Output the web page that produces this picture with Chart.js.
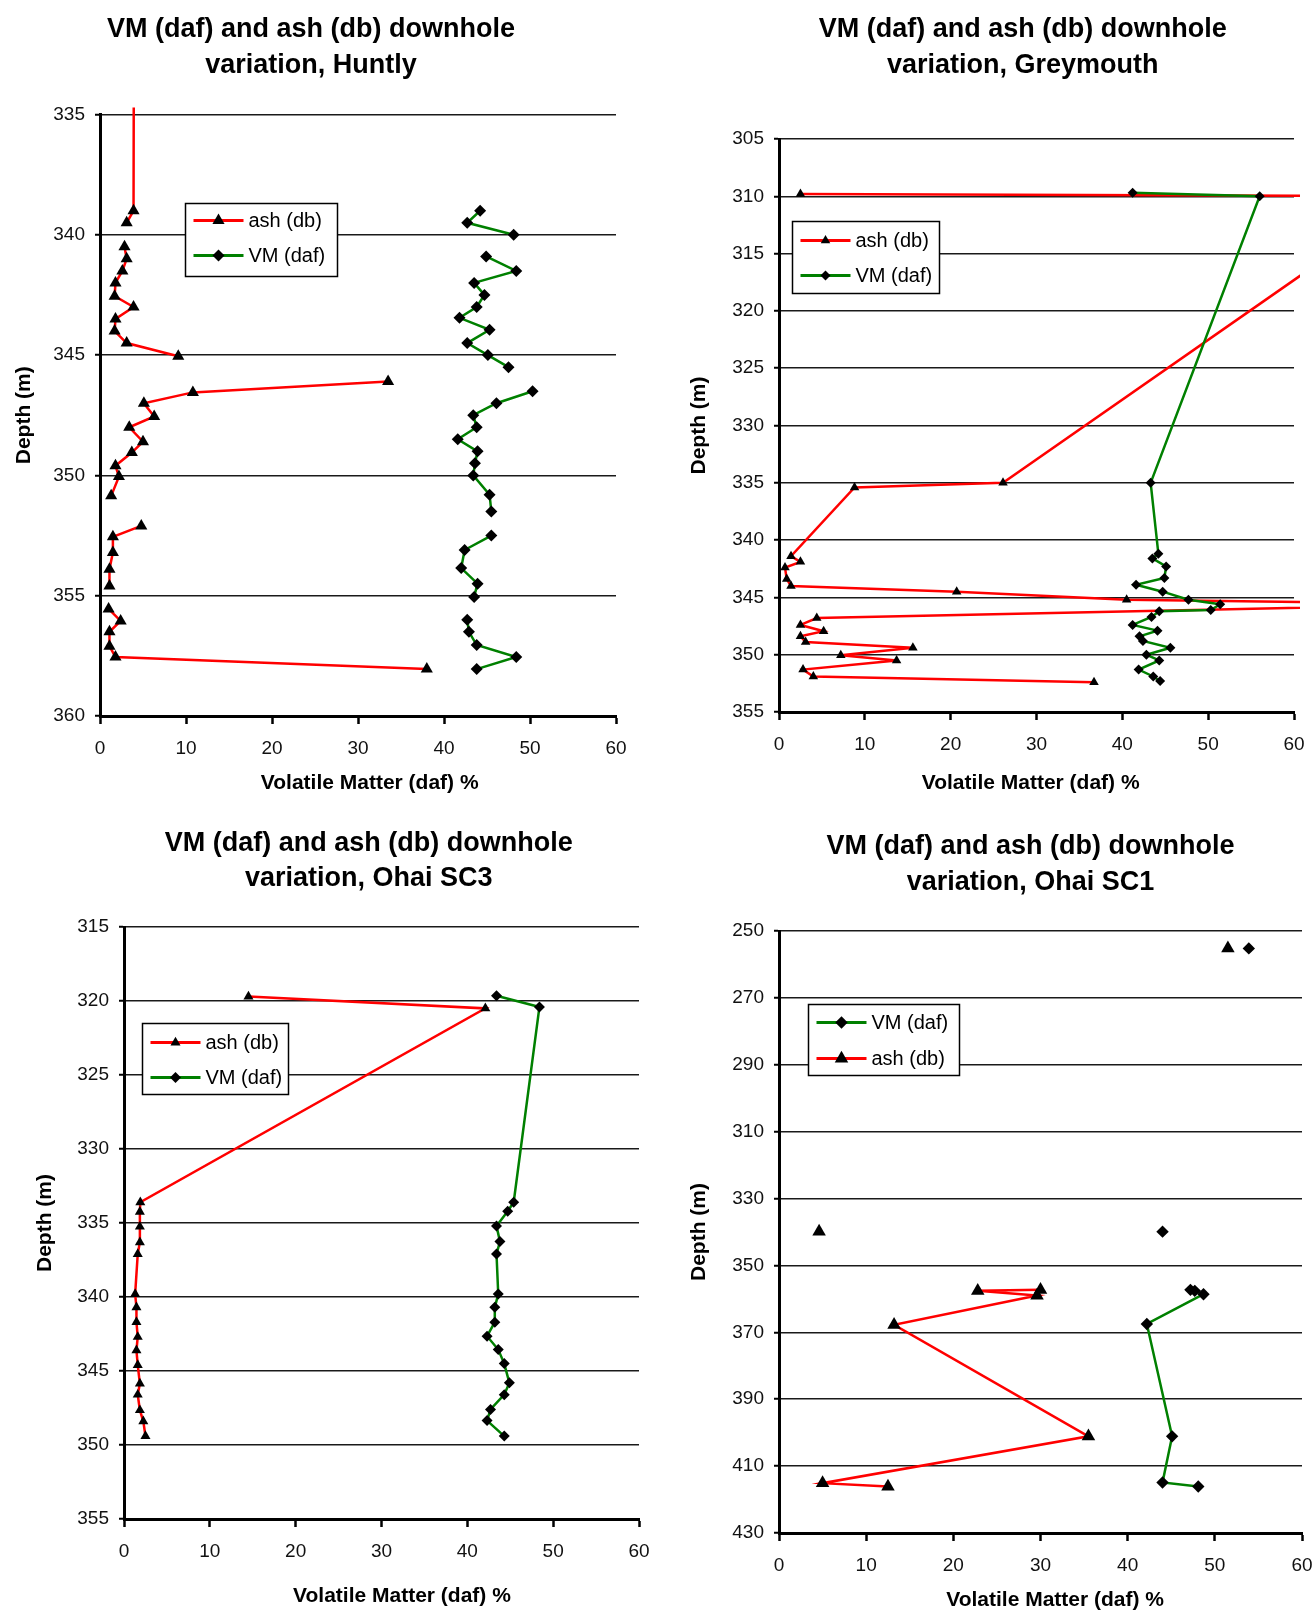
<!DOCTYPE html>
<html>
<head>
<meta charset="utf-8">
<title>VM (daf) and ash (db) downhole variation</title>
<script src="https://cdn.jsdelivr.net/npm/chart.js@4.4.1/dist/chart.umd.min.js"></script>
<style>
  html, body { margin: 0; padding: 0; background: #fff; overflow: hidden; }
  body { width: 1316px; height: 1611px; position: relative; }
  .panel { position: absolute; }
  .panel canvas { display: block; }
</style>
</head>
<body>
<div class="panel" id="p-huntly"><canvas id="huntly"></canvas></div>
<div class="panel" id="p-greymouth"><canvas id="greymouth"></canvas></div>
<div class="panel" id="p-sc3"><canvas id="sc3"></canvas></div>
<div class="panel" id="p-sc1"><canvas id="sc1"></canvas></div>
<script>
// every pair is [depth m, percent]; null breaks the line
const huntlyAsh = [
  [320, 4.0], [339.0, 3.9], [339.5, 3.1], null,
  [340.5, 2.85], [341.0, 3.1], [341.5, 2.6], [342.0, 1.8], [342.55, 1.7], [343.0, 3.9],
  [343.5, 1.8], [344.0, 1.7], [344.5, 3.1], [345.05, 9.1], null,
  [346.1, 33.5], [346.55, 10.8], [347.0, 5.1], [347.55, 6.3], [348.0, 3.4], [348.6, 5.0],
  [349.05, 3.7], [349.6, 1.8], [350.05, 2.2], [350.85, 1.3], null,
  [352.1, 4.8], [352.55, 1.5], [353.2, 1.5], [353.9, 1.1], [354.6, 1.1], null,
  [355.55, 1.0], [356.05, 2.4], [356.5, 1.1], [357.1, 1.1], [357.55, 1.8], [358.05, 38.0]
];
const huntlyVm = [
  [339.0, 44.2], [339.5, 42.7], [340.0, 48.1], null,
  [340.9, 44.9], [341.5, 48.4], [342.0, 43.5], [342.5, 44.7], [343.0, 43.8], [343.45, 41.8],
  [343.95, 45.3], [344.5, 42.7], [345.0, 45.1], [345.5, 47.5], null,
  [346.5, 50.3], [347.0, 46.1], [347.5, 43.4], [348.0, 43.8], [348.5, 41.6], [349.0, 43.9],
  [349.5, 43.6], [350.0, 43.4], [350.8, 45.3], [351.5, 45.5], null,
  [352.5, 45.5], [353.1, 42.4], [353.85, 42.0], [354.5, 43.9], [355.05, 43.5], null,
  [356.0, 42.7], [356.5, 42.9], [357.05, 43.8], [357.55, 48.4], [358.05, 43.8]
];

const greyAsh = [
  [309.8, 2.5], [310.0, 74], [335.0, 26.1], [335.4, 8.8], [341.4, 1.4], [341.9, 2.5],
  [342.4, 0.7], [343.4, 0.9], [344.0, 1.4], [344.5, 20.7], [345.2, 40.5], [345.6, 80],
  [346.8, 4.4], [347.4, 2.5], [347.95, 5.2], [348.4, 2.5], [348.9, 3.1], [349.4, 15.6],
  [350.05, 7.2], [350.5, 13.7], [351.3, 2.8], [351.9, 4.0], [352.4, 36.7]
];
const greyVm = [
  [309.7, 41.2], [310.0, 56.0], [335.0, 43.3], [341.2, 44.2], [341.6, 43.5], [342.3, 45.1],
  [343.3, 44.9], [343.9, 41.6], [344.5, 44.7], [345.2, 47.7], [345.6, 51.4], [346.1, 50.3],
  [346.2, 44.3], [346.7, 43.4], [347.4, 41.2], [347.9, 44.1], [348.4, 42.0], [348.8, 42.4],
  [349.4, 45.6], [350.0, 42.8], [350.5, 44.3], [351.3, 41.9], [351.9, 43.6], [352.3, 44.4]
];

const sc3Ash = [
  [319.7, 14.5], [320.5, 42.1], [333.6, 1.9], [334.25, 1.85], [335.25, 1.85], [336.3, 1.85],
  [337.1, 1.6], [339.8, 1.3], [340.7, 1.45], [341.7, 1.45], [342.7, 1.6], [343.6, 1.45],
  [344.6, 1.6], [345.85, 1.85], [346.6, 1.6], [347.65, 1.85], [348.4, 2.25], [349.4, 2.5]
];
const sc3Vm = [
  [319.65, 43.4], [320.4, 48.4], [333.6, 45.4], [334.2, 44.7], [335.2, 43.4], [336.25, 43.8],
  [337.1, 43.4], [339.8, 43.6], [340.7, 43.2], [341.7, 43.2], [342.65, 42.3], [343.55, 43.6],
  [344.5, 44.3], [345.8, 44.9], [346.6, 44.3], [347.6, 42.7], [348.35, 42.3], [349.4, 44.3]
];

const sc1Ash = [
  [255.2, 51.5], null, [339.9, 4.6], null,
  [357.3, 30.0], [357.6, 22.8], [359.0, 29.6], [367.75, 13.2], [401.1, 35.5], [415.1, 5.0], [416.1, 12.5]
];
const sc1Vm = [
  [255.2, 53.9], null, [339.9, 44.0], null,
  [357.3, 47.2], [357.6, 47.7], [358.6, 48.7], [367.5, 42.2], [401.1, 45.1], [414.9, 44.0], [416.1, 48.1]
];

const xTicks = [0, 60, 10];            // min, max, step
const titleLine = 'VM (daf) and ash (db) downhole';
const xTitle = 'Volatile Matter (daf) %';
const yTitle = 'Depth (m)';
const ashLabel = 'ash (db)';
const vmLabel = 'VM (daf)';

const FONT = '"Liberation Sans", Arial, Helvetica, sans-serif';
Chart.defaults.font.family = FONT;
Chart.defaults.color = '#000';

// geometry: canvas left/top/width/height, inset of the y axis box, and text nudges
const panels = [
  { id: 'huntly', place: 'Huntly', ash: huntlyAsh, vm: huntlyVm, depth: [335, 360, 5],
    left: 6, top: 0, width: 634, height: 806, padL: 0, yWidth: 94, yTitlePad: 6,
    titlePad: [11.7, 30.8], titleLH: 36, titleShift: 0, xTitlePad: 10, xShift: [4, 0],
    ashR: 7, vmR: 6,
    legend: { x: 85, y: 88.5, w: 152, h: 73, rows: [17, 52], order: ['ash', 'vm'] } },
  { id: 'greymouth', place: 'Greymouth', ash: greyAsh, vm: greyVm, depth: [305, 355, 5],
    left: 680, top: 0, width: 638, height: 802, padL: 49, yWidth: 50, yTitlePad: -42,
    titlePad: [11.7, 55.3], titleLH: 36, titleShift: 3, xTitlePad: 6, xShift: [0, 2],
    ashR: 5.5, vmR: 5,
    legend: { x: 13, y: 81.7, w: 147, h: 72, rows: [19, 54], order: ['ash', 'vm'] } },
  { id: 'sc3', place: 'Ohai SC3', ash: sc3Ash, vm: sc3Vm, depth: [315, 355, 5],
    left: 25, top: 800, width: 638, height: 809, padL: 51, yWidth: 48, yTitlePad: -43,
    titlePad: [25.8, 31.2], titleLH: 35, titleShift: 3, xTitlePad: 0, xShift: [7, 0],
    ashR: 5.8, vmR: 5.5,
    legend: { x: 18, y: 95.7, w: 146, h: 71, rows: [19, 54], order: ['ash', 'vm'] } },
  { id: 'sc1', place: 'Ohai SC1', ash: sc1Ash, vm: sc1Vm, depth: [250, 430, 20],
    left: 680, top: 800, width: 646, height: 823, padL: 49, yWidth: 50, yTitlePad: -42,
    titlePad: [28.4, 30.6], titleLH: 36, titleShift: 4, xTitlePad: 10.5, xShift: [5, 0],
    ashR: 7.8, vmR: 6.2,
    legend: { x: 29, y: 73, w: 151, h: 71, rows: [18, 54], order: ['vm', 'ash'] } }
];
const PAD_RIGHT = 24;

function toPoints(pairs) {
  return pairs.map(p => p ? { x: p[1], y: p[0] } : { x: null, y: null });
}

function series(label, pairs, color, style, radius, order) {
  return {
    label: label,
    data: toPoints(pairs),
    showLine: true,
    borderColor: color,
    borderWidth: 2.5,
    pointStyle: style,
    pointRadius: radius,
    pointHoverRadius: radius,
    pointBackgroundColor: '#000',
    pointBorderColor: '#000',
    pointBorderWidth: 0,
    order: order,
    clip: { left: 10, top: 7, right: 6, bottom: 10 }
  };
}

function marker(ctx, style, x, y, r) {
  ctx.beginPath();
  if (style === 'triangle') {
    ctx.moveTo(x, y - r);
    ctx.lineTo(x + r * 0.866, y + r / 2);
    ctx.lineTo(x - r * 0.866, y + r / 2);
  } else {
    ctx.moveTo(x - r, y);
    ctx.lineTo(x, y - r);
    ctx.lineTo(x + r, y);
    ctx.lineTo(x, y + r);
  }
  ctx.closePath();
  ctx.fill();
}

// boxed legend sitting inside the plot, like the spreadsheet one
const insetLegend = {
  id: 'insetLegend',
  afterDraw(chart, args, opts) {
    const { ctx, chartArea } = chart;
    const x = Math.round(chartArea.left + opts.x) + 0.5;
    const y = Math.round(chartArea.top + opts.y) + 0.5;
    ctx.save();
    ctx.fillStyle = '#fff';
    ctx.fillRect(x, y, opts.w, opts.h);
    ctx.strokeStyle = '#000';
    ctx.lineWidth = 1.5;
    ctx.strokeRect(x, y, opts.w, opts.h);
    ctx.font = '20px ' + FONT;
    ctx.textBaseline = 'middle';
    opts.order.forEach((key, row) => {
      const ds = chart.data.datasets.find(d => d.key === key);
      const cy = y + opts.rows[row];
      ctx.strokeStyle = ds.borderColor;
      ctx.lineWidth = 3;
      ctx.beginPath();
      ctx.moveTo(x + 8, cy);
      ctx.lineTo(x + 58, cy);
      ctx.stroke();
      ctx.fillStyle = '#000';
      marker(ctx, ds.pointStyle, x + 33, cy, ds.pointRadius);
      ctx.fillText(ds.label, x + 63, cy + 1);
    });
    ctx.restore();
  }
};

panels.forEach(p => {
  const wrap = document.getElementById('p-' + p.id);
  wrap.style.left = p.left + 'px';
  wrap.style.top = p.top + 'px';
  const canvas = document.getElementById(p.id);
  canvas.width = p.width;
  canvas.height = p.height;

  const ash = series(ashLabel, p.ash, '#ff0000', 'triangle', p.ashR, 1);
  ash.key = 'ash';
  const vm = series(vmLabel, p.vm, '#008000', 'rectRot', p.vmR, 0);
  vm.key = 'vm';

  const lead = ' '.repeat(p.titleShift);
  const xText = ' '.repeat(p.xShift[0]) + xTitle + ' '.repeat(p.xShift[1]);

  new Chart(canvas, {
    type: 'scatter',
    data: { datasets: [vm, ash] },
    plugins: [insetLegend],
    options: {
      responsive: false,
      animation: false,
      events: [],
      layout: { autoPadding: false, padding: { left: p.padL, right: PAD_RIGHT, top: 0, bottom: 0 } },
      plugins: {
        legend: { display: false },
        tooltip: { enabled: false },
        title: {
          display: true,
          text: [lead + titleLine, lead + 'variation, ' + p.place],
          color: '#000',
          font: { size: 27, weight: 'bold', lineHeight: p.titleLH + 'px' },
          padding: { top: p.titlePad[0], bottom: p.titlePad[1] }
        },
        insetLegend: p.legend
      },
      scales: {
        x: {
          type: 'linear',
          position: 'bottom',
          min: xTicks[0], max: xTicks[1],
          afterFit: s => { s.height = 90; },
          ticks: { stepSize: xTicks[2], padding: 13, color: '#111', font: { size: 19 } },
          grid: { display: true, drawOnChartArea: false, drawTicks: true, tickLength: 8, tickWidth: 2.5, tickColor: '#000' },
          border: { display: true, color: '#000', width: 3 },
          title: { display: true, text: xText, color: '#000', font: { size: 21, weight: 'bold', lineHeight: 1.2 },
                   padding: { top: 0, bottom: p.xTitlePad } }
        },
        y: {
          type: 'linear',
          position: 'left',
          reverse: true,
          min: p.depth[0], max: p.depth[1],
          afterFit: s => { s.width = p.yWidth; },
          ticks: { stepSize: p.depth[2], padding: 10, color: '#111', font: { size: 19 } },
          grid: { color: '#1a1a1a', lineWidth: 1.5, drawTicks: true, tickLength: 5, tickWidth: 2, tickColor: '#000' },
          border: { display: true, color: '#000', width: 3 },
          title: { display: true, text: yTitle, color: '#000', font: { size: 21, weight: 'bold', lineHeight: 1.2 },
                   padding: { top: p.yTitlePad, bottom: 0 } }
        }
      }
    }
  });
});
</script>
</body>
</html>
